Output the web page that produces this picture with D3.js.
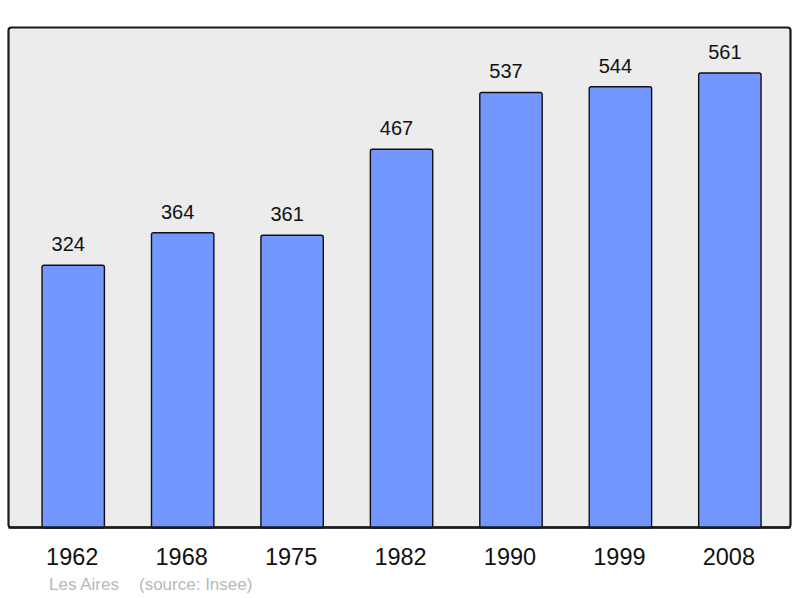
<!DOCTYPE html>
<html>
<head>
<meta charset="utf-8">
<script src="https://cdn.jsdelivr.net/npm/d3@7"></script>
<style>
  body { margin: 0; background: #fff; }
  svg { display: block; font-family: "Liberation Sans", Arial, sans-serif; }
</style>
</head>
<body>
<script>
// population data (Insee)
var years = ['1962', '1968', '1975', '1982', '1990', '1999', '2008'];
var population = [324, 364, 361, 467, 537, 544, 561];
var townName = 'Les Aires';
var sourceText = '(source: Insee)';

var width = 800, height = 598;

var svg = d3.select('body').append('svg')
    .attr('width', width)
    .attr('height', height);

// frame box
var frame = {left: 8.5, top: 27.5, right: 790.5, bottom: 527.5};

svg.append('rect')
    .attr('x', frame.left)
    .attr('y', frame.top)
    .attr('width', frame.right - frame.left)
    .attr('height', frame.bottom - frame.top)
    .attr('rx', 3).attr('ry', 3)
    .attr('fill', '#ececec')
    .attr('stroke', '#1a1a1a')
    .attr('stroke-width', 2.2);

var x = d3.scaleBand()
    .domain(years)
    .range([12.5, 790.6])
    .paddingInner(0.43)
    .paddingOuter(0.27);

var y = d3.scaleLinear()
    .domain([0, 617])
    .range([528, 27.6]);

// bars
svg.append('g').attr('class', 'bars')
  .selectAll('rect')
  .data(population)
  .join('rect')
    .attr('x', function(d, i){ return x(years[i]); })
    .attr('y', function(d){ return y(d); })
    .attr('width', x.bandwidth())
    .attr('height', function(d){ return y(0) - y(d); })
    .attr('rx', 2).attr('ry', 2)
    .attr('fill', '#7396ff')
    .attr('stroke', '#111')
    .attr('stroke-width', 1.4);

// redraw the bottom frame line on top of bars
svg.append('line')
    .attr('x1', frame.left).attr('x2', frame.right)
    .attr('y1', frame.bottom).attr('y2', frame.bottom)
    .attr('stroke', '#1a1a1a')
    .attr('stroke-width', 2.4);

// value labels (sit a little left of the bar centre, as in the original)
svg.append('g').attr('class', 'values')
  .selectAll('text')
  .data(population)
  .join('text')
    .attr('x', function(d, i){ return x(years[i]) + x.bandwidth() / 2 - 5; })
    .attr('y', function(d){ return y(d) - 14; })
    .attr('text-anchor', 'middle')
    .attr('font-size', '20px')
    .attr('fill', '#111')
    .text(function(d){ return d; });

// year labels
svg.append('g').attr('class', 'years')
  .selectAll('text')
  .data(years)
  .join('text')
    .attr('x', function(d){ return x(d) + x.bandwidth() / 2 - 1; })
    .attr('y', 565)
    .attr('text-anchor', 'middle')
    .attr('font-size', '23.5px')
    .attr('fill', '#111')
    .text(function(d){ return d; });

// caption
svg.append('text')
    .attr('x', 49).attr('y', 589.5)
    .attr('font-size', '17px')
    .attr('fill', '#b8b8b8')
    .text(townName);
svg.append('text')
    .attr('x', 139).attr('y', 589.5)
    .attr('font-size', '17px')
    .attr('fill', '#b8b8b8')
    .text(sourceText);
</script>
</body>
</html>
